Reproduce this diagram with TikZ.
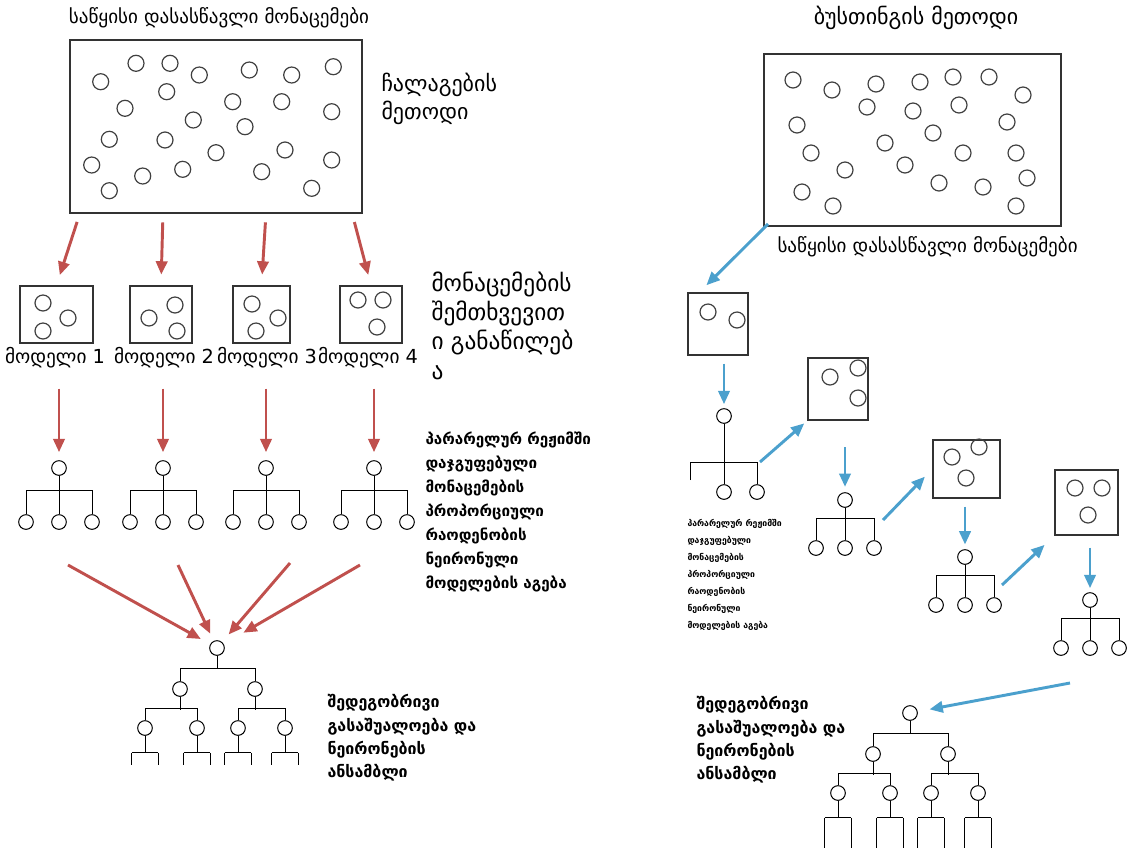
\documentclass[tikz,border=0pt]{standalone}
\usepackage{fontspec}
\setmainfont{DejaVu Sans}
\usetikzlibrary{arrows.meta}

\definecolor{bagred}{RGB}{192,80,77}
\definecolor{boostblue}{RGB}{75,160,205}

\tikzset{every picture/.style={line width=0.75pt}}
\tikzset{
  pt/.style={draw=black!75, line width=0.9pt, circle, minimum size=12pt, inner sep=0pt},
  unit/.style={draw, circle, minimum size=11pt, inner sep=0pt},
  databox/.style={draw=black!80, line width=1.1pt, inner sep=0pt},
  redarr/.style={draw=bagred, line width=2.2pt, -{Triangle[length=10pt,width=8.5pt]}},
  bluearr/.style={draw=boostblue, line width=2.2pt, -{Triangle[length=10pt,width=8.5pt]}},
  lbl/.style={inner sep=0.75pt, align=left},
}

\begin{document}
\begin{tikzpicture}[x=0.75pt,y=0.75pt,yscale=-1,xscale=1]
\useasboundingbox (0,0) rectangle (1134,858);

%% ---------- bagging (left) ----------
% Text Node
\node[lbl, font=\fontsize{14.3}{16}\selectfont] (bagtitle) at (219,18) {საწყისი დასასწავლი მონაცემები};
% data set
\node[databox, minimum width=219pt, minimum height=129.75pt] (bagdata) at (216,126.5) {};
\foreach \x/\y [count=\k] in {100.7/81.7,136/63.3,170/63.3,199.3/75,249.3/70,291.7/75,333.3/66.7,
  166.7/91.7,125/108.3,232.7/101.7,281.7/101.7,331.7/111.7,193.3/120,245/126.7,109.3/139.3,
  165/140,216/152.7,285/150,91.7/165,182.7/169.3,142.7/176,261.7/171.7,331.7/160,109.3/190.7,311.7/188.3}
  \node[pt] (bd\k) at (\x,\y) {};
% Text Node
\node[lbl, anchor=north west, font=\fontsize{16.5}{21}\selectfont] (bagname) at (380,72) {ჩალაგების\\მეთოდი};

% sub samples
\node[databox, minimum width=54.75pt, minimum height=42.75pt] (box1) at (56.5,314.5) {};
\node[databox, minimum width=46.5pt, minimum height=42.75pt] (box2) at (161,314.5) {};
\node[databox, minimum width=42.75pt, minimum height=42.75pt] (box3) at (261.5,314.5) {};
\node[databox, minimum width=46.5pt, minimum height=42.75pt] (box4) at (371,314.5) {};
\foreach \x/\y [count=\k] in {43/303,68/318,43/331} \node[pt] (s1p\k) at (\x,\y) {};
\foreach \x/\y [count=\k] in {149/318,175/305,177/331} \node[pt] (s2p\k) at (\x,\y) {};
\foreach \x/\y [count=\k] in {252/304,278/318,256/331} \node[pt] (s3p\k) at (\x,\y) {};
\foreach \x/\y [count=\k] in {358/300,383/300,377/327} \node[pt] (s4p\k) at (\x,\y) {};

% Text Node
\node[lbl, anchor=north west, font=\fontsize{17.5}{22}\selectfont] (splitnote) at (430,270) {მონაცემების\\შემთხვევით\\ი განაწილებ\\ა};

% arrows to sub samples
\foreach \i/\sx in {1/80,2/163,3/266,4/352}{
  \coordinate (bs\i) at (\sx,213);
  \draw[redarr, shorten <=7pt, shorten >=8pt] (bs\i) -- (box\i.north);
}

% models: label, arrow, small net
\foreach \i/\x/\lx in {1/59/55,2/163/164,3/266/267,4/374/368}{
  \node[lbl, font=\fontsize{14.5}{16}\selectfont] (lab\i) at (\lx,358) {მოდელი \i};
  \node[unit] (r\i) at (\x,468) {};
  \node[unit] (a\i) at (\x-33,522) {};
  \node[unit] (b\i) at (\x,522) {};
  \node[unit] (c\i) at (\x+33,522) {};
  \draw (r\i) -- (b\i);
  \draw (a\i.north) -- ++(0,-24) -| (c\i.north);
  \draw[redarr, shorten <=14pt, shorten >=6pt] (lab\i.south -| r\i) -- (r\i.north);
}

% Text Node
\node[lbl, anchor=north west, font=\fontsize{11.4}{18}\selectfont\bfseries] (bagnote) at (424,430) {პარარელურ რეჟიმში\\დაჯგუფებული\\მონაცემების\\პროპორციული\\რაოდენობის\\ნეირონული\\მოდელების აგება};

% ensemble net
\node[unit] (e0) at (217,648) {};
\node[unit] (e1) at (180,689) {};
\node[unit] (e2) at (255,689) {};
\draw (e0.south) -- ++(0,13);
\draw (e1.north) -- ++(0,-13) -| (e2.north);
\foreach \x [count=\k] in {145,197,238,285}
  \node[unit] (f\k) at (\x,728) {};
\draw (e1.south) -- ++(0,13);
\draw (f1.north) -- ++(0,-12) -| (f2.north);
\draw (e2.south) -- ++(0,13);
\draw (f3.north) -- ++(0,-12) -| (f4.north);
\foreach \k in {1,...,4}{
  \draw (f\k.south) -- ++(0,17) coordinate (fb\k);
  \draw ([xshift=-10pt]fb\k) -- ([xshift=10pt]fb\k);
  \draw ([xshift=-10pt]fb\k) -- ++(0,12);
  \draw ([xshift=10pt]fb\k) -- ++(0,12);
}
\foreach \i/\sx/\sy/\sh in {1/68/565/8,2/178/565/6,3/290/563/7.5,4/360/565/17}{
  \coordinate (cv\i) at (\sx,\sy);
  \draw[redarr, shorten >=\sh pt] (cv\i) -- (e0);
}
% Text Node
\node[lbl, anchor=north west, font=\fontsize{12}{17.5}\selectfont\bfseries] (bagout) at (326,693) {შედეგობრივი\\გასაშუალოება და\\ნეირონების\\ანსამბლი};

%% ---------- boosting (right) ----------
% Text Node
\node[lbl, font=\fontsize{16.5}{18}\selectfont] (boosttitle) at (916,18) {ბუსთინგის მეთოდი};
\node[databox, minimum width=222.75pt, minimum height=129pt] (boostdata) at (912.5,140) {};
\foreach \x/\y [count=\k] in {793/80,832/90,876/84,920/82,953/77,989/77,1023/95,959/105,867/107,913/111,
  797/125,1007/122,933/133,885/143,811/153,963/153,1016/153,845/170,905/165,939/183,983/187,1027/178,
  802/192,833/206,1016/206}
  \node[pt] (rd\k) at (\x,\y) {};
% Text Node
\node[lbl, anchor=west, font=\fontsize{14.3}{16}\selectfont] (boostdatalab) at (776,247) {საწყისი დასასწავლი მონაცემები};

% weighted samples
\node[databox, minimum width=45pt, minimum height=46.5pt] (boxA) at (718,324) {};
\node[databox, minimum width=45pt, minimum height=46.5pt] (boxB) at (838,389) {};
\node[databox, minimum width=50.25pt, minimum height=43.5pt] (boxC) at (966.5,469) {};
\node[databox, minimum width=47.25pt, minimum height=48.75pt] (boxD) at (1086.5,502.5) {};
\foreach \x/\y [count=\k] in {708/312,737/320} \node[pt] (pA\k) at (\x,\y) {};
\foreach \x/\y [count=\k] in {830/377,858/368,858/398} \node[pt] (pB\k) at (\x,\y) {};
\foreach \x/\y [count=\k] in {952/457,979/447,966/478} \node[pt] (pC\k) at (\x,\y) {};
\foreach \x/\y [count=\k] in {1075/488,1102/488,1088/515} \node[pt] (pD\k) at (\x,\y) {};

% weak learners
\node[unit] (rA) at (724,416) {};
\node[unit] (bA) at (724,492) {};
\node[unit] (cA) at (757,492) {};
\draw (rA) -- (bA);
\coordinate (aA) at (690,480);
\draw (aA) -- ++(0,-18) -| (cA.north);
\foreach \n/\x/\y in {B/845/500,C/965/557,D/1090/600}{
  \node[unit] (r\n) at (\x,\y) {};
  \node[unit] (a\n) at (\x-29,\y+48) {};
  \node[unit] (b\n) at (\x,\y+48) {};
  \node[unit] (c\n) at (\x+29,\y+48) {};
  \draw (r\n) -- (b\n);
  \draw (a\n.north) -- ++(0,-22) -| (c\n.north);
}

% boosting arrows
\coordinate (q1) at (770,222);
\draw[bluearr, shorten <=2pt, shorten >=7.5pt] (q1) -- ([xshift=-14pt]boxA.north);
\draw[bluearr, shorten <=6pt, shorten >=3pt] (boxA.south -| rA) -- (rA.north);
\coordinate (q2) at (760,462);
\draw[bluearr, shorten >=3pt] (q2) -- (boxB.south west);
\draw[bluearr, shorten <=20pt, shorten >=4pt] (boxB.south -| rB) -- (rB.north);
\coordinate (q3) at (883,520);
\draw[bluearr, shorten >=8pt] (q3) -- (boxC.west);
\draw[bluearr, shorten <=6pt, shorten >=3.5pt] (boxC.south -| rC) -- (rC.north);
\coordinate (q4) at (1002,585);
\draw[bluearr, shorten >=10pt] (q4) -- (boxD.south west);
\draw[bluearr, shorten <=9pt, shorten >=3pt] (boxD.south -| rD) -- (rD.north);

% Text Node
\node[lbl, anchor=north west, font=\fontsize{6.5}{12.75}\selectfont\bfseries] (boostnote) at (686,518) {პარარელურ რეჟიმში\\დაჯგუფებული\\მონაცემების\\პროპორციული\\რაოდენობის\\ნეირონული\\მოდელების აგება};

% final ensemble
\node[unit] (g0) at (910,713) {};
\node[unit] (g1) at (873,754) {};
\node[unit] (g2) at (948,754) {};
\draw (g0.south) -- ++(0,13);
\draw (g1.north) -- ++(0,-13) -| (g2.north);
\foreach \x [count=\k] in {838,890,931,978}
  \node[unit] (h\k) at (\x,793) {};
\draw (g1.south) -- ++(0,13);
\draw (h1.north) -- ++(0,-12) -| (h2.north);
\draw (g2.south) -- ++(0,13);
\draw (h3.north) -- ++(0,-12) -| (h4.north);
\foreach \k in {1,...,4}{
  \draw (h\k.south) -- ++(0,17) coordinate (hb\k);
  \draw ([xshift=-10pt]hb\k) -- ([xshift=10pt]hb\k);
  \draw ([xshift=-10pt]hb\k) -- ++(0,30);
  \draw ([xshift=10pt]hb\k) -- ++(0,30);
}
\coordinate (q5) at (1070,683);
\draw[bluearr, shorten >=9pt] (q5) -- (g0);
% Text Node
\node[lbl, anchor=north west, font=\fontsize{12}{17.5}\selectfont\bfseries] (boostout) at (695,695) {შედეგობრივი\\გასაშუალოება და\\ნეირონების\\ანსამბლი};

\end{tikzpicture}
\end{document}
